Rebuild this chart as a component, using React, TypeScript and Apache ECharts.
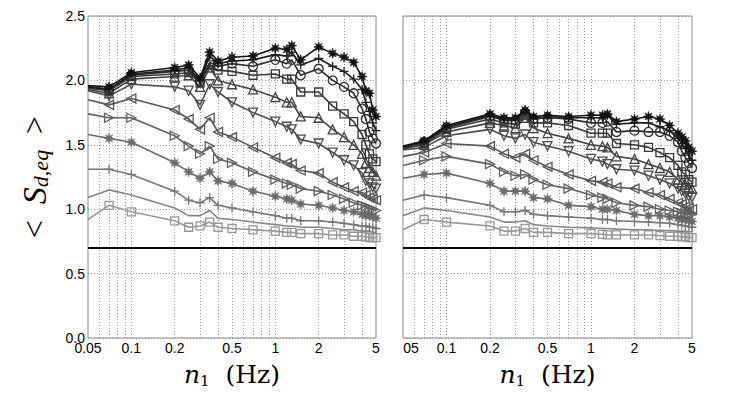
import React, { useEffect, useRef } from 'react';
import * as echarts from 'echarts';

// frequencies n1 (Hz) shared by every curve
const nValues = [0.05, 0.07, 0.1, 0.2, 0.25, 0.3, 0.35, 0.4, 0.5, 0.7, 1, 1.2, 1.3, 1.5, 2, 2.5, 3, 3.5, 4, 4.25, 4.5, 4.75, 5];

// left panel
const leftStar = [1.96, 1.95, 2.06, 2.10, 2.12, 2.02, 2.22, 2.15, 2.18, 2.19, 2.25, 2.24, 2.27, 2.16, 2.26, 2.21, 2.18, 2.14, 2.03, 1.92, 1.90, 1.77, 1.72];
const leftPlus = [1.95, 1.93, 2.05, 2.08, 2.10, 2.00, 2.19, 2.13, 2.15, 2.16, 2.20, 2.19, 2.22, 2.12, 2.17, 2.11, 2.07, 2.01, 1.93, 1.83, 1.76, 1.67, 1.61];
const leftCircle = [1.95, 1.93, 2.04, 2.07, 2.08, 1.99, 2.14, 2.11, 2.13, 2.11, 2.16, 2.13, 2.16, 2.04, 2.09, 2.00, 1.95, 1.90, 1.78, 1.70, 1.60, 1.55, 1.51];
const leftSquare = [1.94, 1.92, 2.03, 2.05, 2.06, 1.98, 2.12, 2.08, 2.07, 2.04, 2.05, 2.01, 2.01, 1.91, 1.91, 1.80, 1.74, 1.68, 1.58, 1.50, 1.43, 1.39, 1.37];
const leftTriUp = [1.93, 1.90, 2.01, 2.03, 2.04, 1.95, 2.10, 2.00, 1.97, 1.93, 1.87, 1.83, 1.83, 1.72, 1.71, 1.62, 1.56, 1.50, 1.43, 1.36, 1.32, 1.29, 1.26];
const leftTriDown = [1.92, 1.88, 1.97, 1.95, 1.92, 1.81, 1.97, 1.91, 1.83, 1.75, 1.68, 1.64, 1.62, 1.54, 1.51, 1.44, 1.38, 1.34, 1.28, 1.22, 1.20, 1.17, 1.16];
const leftTriLeft = [1.85, 1.81, 1.86, 1.77, 1.70, 1.62, 1.71, 1.60, 1.56, 1.48, 1.40, 1.36, 1.35, 1.30, 1.28, 1.21, 1.17, 1.14, 1.13, 1.11, 1.09, 1.08, 1.07];
const leftTriRight = [1.74, 1.71, 1.71, 1.57, 1.49, 1.43, 1.49, 1.39, 1.36, 1.29, 1.23, 1.20, 1.19, 1.16, 1.14, 1.11, 1.08, 1.05, 1.03, 1.02, 1.01, 1.00, 0.99];
const leftDot = [1.58, 1.55, 1.52, 1.36, 1.29, 1.24, 1.29, 1.22, 1.20, 1.14, 1.10, 1.08, 1.07, 1.04, 1.03, 1.01, 0.99, 0.98, 0.96, 0.95, 0.95, 0.94, 0.93];
const leftPlus2 = [1.31, 1.31, 1.27, 1.14, 1.07, 1.05, 1.09, 1.03, 1.01, 0.98, 0.95, 0.93, 0.93, 0.91, 0.91, 0.90, 0.89, 0.88, 0.87, 0.87, 0.86, 0.86, 0.85];
const leftPlain = [1.09, 1.15, 1.11, 1.01, 0.95, 0.95, 0.99, 0.93, 0.92, 0.90, 0.88, 0.87, 0.87, 0.86, 0.86, 0.85, 0.84, 0.84, 0.83, 0.83, 0.83, 0.82, 0.82];
const leftSquare2 = [0.92, 1.03, 0.98, 0.91, 0.86, 0.87, 0.90, 0.86, 0.85, 0.84, 0.83, 0.82, 0.82, 0.81, 0.81, 0.80, 0.80, 0.79, 0.79, 0.785, 0.78, 0.78, 0.78];

// right panel
const rightStar = [1.49, 1.53, 1.65, 1.74, 1.71, 1.71, 1.77, 1.72, 1.73, 1.72, 1.73, 1.73, 1.74, 1.68, 1.70, 1.72, 1.70, 1.65, 1.59, 1.56, 1.53, 1.48, 1.45];
const rightPlus = [1.48, 1.53, 1.64, 1.73, 1.70, 1.70, 1.76, 1.71, 1.72, 1.71, 1.71, 1.71, 1.73, 1.66, 1.67, 1.67, 1.64, 1.61, 1.55, 1.51, 1.47, 1.42, 1.38];
const rightCircle = [1.48, 1.52, 1.63, 1.72, 1.69, 1.69, 1.75, 1.70, 1.71, 1.70, 1.67, 1.67, 1.68, 1.60, 1.61, 1.60, 1.60, 1.57, 1.52, 1.45, 1.40, 1.36, 1.32];
const rightSquare = [1.47, 1.51, 1.62, 1.70, 1.67, 1.66, 1.73, 1.67, 1.67, 1.65, 1.59, 1.59, 1.59, 1.51, 1.50, 1.48, 1.44, 1.40, 1.34, 1.29, 1.27, 1.23, 1.21];
const rightTriUp = [1.47, 1.50, 1.60, 1.67, 1.65, 1.63, 1.71, 1.63, 1.59, 1.55, 1.50, 1.49, 1.48, 1.41, 1.39, 1.35, 1.32, 1.29, 1.23, 1.21, 1.19, 1.17, 1.16];
const rightTriDown = [1.46, 1.48, 1.57, 1.62, 1.57, 1.55, 1.58, 1.52, 1.49, 1.45, 1.39, 1.37, 1.35, 1.31, 1.30, 1.26, 1.23, 1.20, 1.16, 1.14, 1.12, 1.10, 1.09];
const rightTriLeft = [1.41, 1.44, 1.51, 1.49, 1.43, 1.40, 1.43, 1.38, 1.33, 1.27, 1.22, 1.21, 1.20, 1.17, 1.16, 1.13, 1.11, 1.08, 1.05, 1.04, 1.02, 1.01, 1.00];
const rightTriRight = [1.34, 1.38, 1.41, 1.35, 1.29, 1.26, 1.27, 1.23, 1.19, 1.16, 1.11, 1.09, 1.08, 1.05, 1.03, 1.02, 1.00, 0.99, 0.98, 0.97, 0.97, 0.96, 0.96];
const rightDot = [1.24, 1.27, 1.28, 1.20, 1.14, 1.14, 1.14, 1.09, 1.08, 1.03, 1.02, 1.00, 1.00, 0.99, 0.96, 0.95, 0.95, 0.94, 0.93, 0.92, 0.92, 0.91, 0.905];
const rightPlus2 = [1.07, 1.11, 1.09, 1.03, 0.98, 0.98, 0.99, 0.96, 0.95, 0.94, 0.93, 0.92, 0.92, 0.91, 0.905, 0.90, 0.895, 0.89, 0.88, 0.875, 0.87, 0.865, 0.86];
const rightPlain = [0.95, 1.01, 0.99, 0.94, 0.90, 0.90, 0.91, 0.88, 0.87, 0.86, 0.855, 0.85, 0.85, 0.845, 0.84, 0.84, 0.835, 0.835, 0.83, 0.83, 0.83, 0.825, 0.825];
const rightSquare2 = [0.84, 0.92, 0.90, 0.87, 0.83, 0.83, 0.85, 0.82, 0.82, 0.81, 0.81, 0.805, 0.80, 0.80, 0.80, 0.80, 0.795, 0.79, 0.79, 0.785, 0.785, 0.78, 0.78];

const leftSeries = [leftStar, leftPlus, leftCircle, leftSquare, leftTriUp, leftTriDown, leftTriLeft, leftTriRight, leftDot, leftPlus2, leftPlain, leftSquare2];
const rightSeries = [rightStar, rightPlus, rightCircle, rightSquare, rightTriUp, rightTriDown, rightTriLeft, rightTriRight, rightDot, rightPlus2, rightPlain, rightSquare2];

// axes
const xGridTicks = [0.06, 0.07, 0.08, 0.09, 0.1, 0.2, 0.3, 0.4, 0.5, 0.6, 0.7, 0.8, 0.9, 1, 2, 3, 4];
const xTickLabels = [0.05, 0.1, 0.2, 0.5, 1, 2, 5];
const xMin = 0.05;
const xMax = 5;
const yMin = 0;
const yMax = 2.5;
const yStep = 0.5;
const refLevel = 0.7;

// styles
const colors = ['#131313', '#1f1f1f', '#2b2b2b', '#373737', '#424242', '#4c4c4c', '#565656', '#606060', '#6b6b6b', '#777777', '#858585', '#979797'];
const markerKinds = ['star', 'plus', 'circle', 'square', 'up', 'down', 'left', 'right', 'star', 'plus', 'none', 'square'];

const starSymbol = (() => {
  let d = '';
  for (let i = 0; i < 16; i++) {
    const r = i % 2 === 0 ? 1 : 0.45;
    const a = (Math.PI * i) / 8 - Math.PI / 2;
    d += (i === 0 ? 'M' : ' L') + (r * Math.cos(a)).toFixed(3) + ',' + (r * Math.sin(a)).toFixed(3);
  }
  return 'path://' + d + ' Z';
})();

const symbolDefs: Record<string, { symbol: string; size: number; filled: boolean }> = {
  star: { symbol: starSymbol, size: 10, filled: true },
  plus: { symbol: 'path://M0,-1 L0,1 M-1,0 L1,0', size: 9, filled: false },
  circle: { symbol: 'circle', size: 9, filled: false },
  square: { symbol: 'rect', size: 8, filled: false },
  up: { symbol: 'path://M0,10 L5,0 L10,10 Z', size: 9, filled: false },
  down: { symbol: 'path://M0,0 L10,0 L5,10 Z', size: 9, filled: false },
  left: { symbol: 'path://M10,0 L10,10 L0,5 Z', size: 9, filled: false },
  right: { symbol: 'path://M0,0 L0,10 L10,5 Z', size: 9, filled: false },
  none: { symbol: 'none', size: 0, filled: false },
};

const sans = 'Liberation Sans';
const mathFont = 'DejaVu Serif';
const labelFont = 'Liberation Serif';
const lg = (v: number) => Math.log10(v);

function fmtFreq(v: number, shortFirst: boolean) {
  const n = Math.pow(10, v);
  if (n < 0.075) return shortFirst ? '{c|05}' : '0.05';
  if (n < 0.95) return n.toFixed(1);
  return String(Math.round(n));
}

function buildSeries(values: number[][], idx: number) {
  return values.map((vals, k) => {
    const c = colors[k];
    const def = symbolDefs[markerKinds[k]];
    const s: any = {
      type: 'line',
      xAxisIndex: idx,
      yAxisIndex: idx,
      z: 2 + (values.length - k),
      data: nValues.map((n, i) =>
        i === 0 ? { value: [lg(n), vals[i]], symbol: 'none' } : [lg(n), vals[i]]
      ),
      symbol: def.symbol,
      symbolSize: def.size,
      showSymbol: def.symbol !== 'none',
      lineStyle: { color: c, width: 1.6 },
      itemStyle: {
        color: def.filled ? c : 'rgba(0,0,0,0)',
        borderColor: c,
        borderWidth: def.filled ? 0.6 : 1.3,
      },
      emphasis: { disabled: true },
      silent: true,
    };
    if (k === values.length - 1) {
      s.markLine = {
        silent: true,
        symbol: ['none', 'none'],
        label: { show: false },
        lineStyle: { color: '#000', width: 2, type: 'solid' },
        data: [{ yAxis: refLevel }],
        z: 20,
      };
    }
    return s;
  });
}

const xNameRich = {
  i: { fontFamily: mathFont, fontStyle: 'italic', fontSize: 25, lineHeight: 28, color: '#000' },
  s: { fontFamily: mathFont, fontSize: 15, lineHeight: 10, verticalAlign: 'bottom', color: '#000' },
  t: { fontFamily: mathFont, fontSize: 25, lineHeight: 28, color: '#000' },
};

function makeX(gridIndex: number) {
  return {
    type: 'value',
    gridIndex,
    min: lg(xMin),
    max: lg(xMax),
    axisLine: { show: false },
    axisTick: { show: false, customValues: xGridTicks.map(lg) },
    axisLabel: {
      customValues: xTickLabels.map(lg),
      formatter: (v: number) => fmtFreq(v, gridIndex === 1),
      color: '#000',
      fontSize: 14,
      fontFamily: sans,
      margin: 3,
      rich: { c: { fontSize: 14, fontFamily: sans, color: '#000', padding: [0, 0, 0, 16] } },
    },
    splitLine: { show: true, lineStyle: { color: '#9a9a9a', type: [1, 2], width: 1 } },
    name: '{i|n}{s|1}{t|  (Hz)}',
    nameLocation: 'middle',
    nameGap: 22,
    nameTextStyle: { fontFamily: mathFont, fontSize: 25, rich: xNameRich },
  };
}

function makeY(gridIndex: number) {
  return {
    type: 'value',
    gridIndex,
    min: yMin,
    max: yMax,
    interval: yStep,
    axisLine: { show: false },
    axisTick: { show: false },
    axisLabel: {
      show: gridIndex === 0,
      formatter: (v: number) => v.toFixed(1),
      color: '#000',
      fontSize: 14,
      fontFamily: sans,
      margin: 3,
    },
    splitLine: { show: true, lineStyle: { color: '#9a9a9a', type: [1, 2], width: 1 } },
    ...(gridIndex === 0
      ? {
          name: '{t|<  }{s|S}{b|d,eq}{t|  >}',
          nameLocation: 'middle',
          nameRotate: 90,
          nameGap: 37,
          nameTextStyle: {
            fontFamily: labelFont,
            fontSize: 32,
            rich: {
              t: { fontFamily: labelFont, fontSize: 32, lineHeight: 34, color: '#000' },
              s: { fontFamily: labelFont, fontStyle: 'italic', fontSize: 34, lineHeight: 34, color: '#000' },
              b: { fontFamily: labelFont, fontStyle: 'italic', fontSize: 22, lineHeight: 12, verticalAlign: 'bottom', color: '#000' },
            },
          },
        }
      : {}),
  };
}

function buildOption() {
  return {
    animation: false,
    backgroundColor: '#fff',
    grid: [
      { left: 88, top: 16, width: 288, height: 324, show: true, borderColor: '#8c8c8c', borderWidth: 1, backgroundColor: 'rgba(0,0,0,0)' },
      { left: 403, top: 16, width: 289, height: 324, show: true, borderColor: '#8c8c8c', borderWidth: 1, backgroundColor: 'rgba(0,0,0,0)' },
    ],
    xAxis: [makeX(0), makeX(1)],
    yAxis: [makeY(0), makeY(1)],
    series: [...buildSeries(leftSeries, 0), ...buildSeries(rightSeries, 1)],
  };
}

export default function App() {
  const ref = useRef<HTMLDivElement>(null);
  useEffect(() => {
    if (!ref.current) return;
    const chart = echarts.init(ref.current, undefined, { renderer: 'svg' });
    chart.setOption(buildOption() as any);
    return () => chart.dispose();
  }, []);
  return (
    <div
      ref={ref}
      style={{ position: 'fixed', left: 0, top: 0, width: 733, height: 393, background: '#fff' }}
    />
  );
}
